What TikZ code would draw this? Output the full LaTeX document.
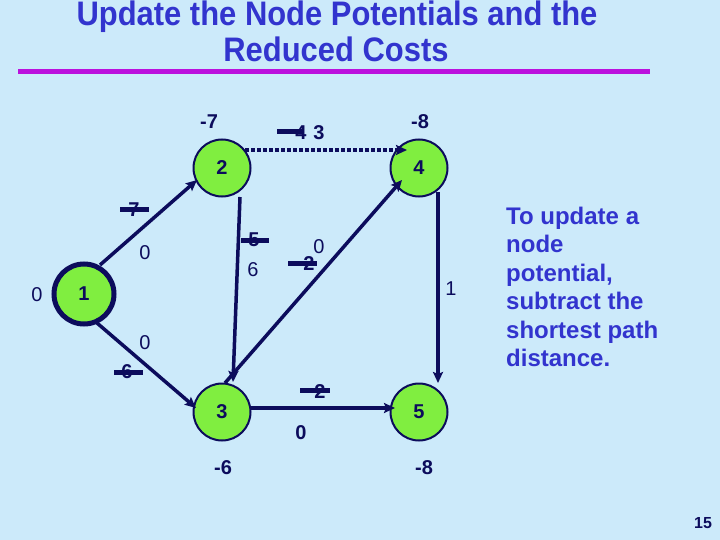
\documentclass[tikz,border=0pt]{standalone}
\usepackage{fontspec}
\setmainfont{Liberation Sans}
\usetikzlibrary{arrows.meta}
\definecolor{navy}{RGB}{12,12,92}
\definecolor{nodegreen}{RGB}{128,238,64}
\definecolor{bgblue}{RGB}{204,234,250}
\definecolor{titleblue}{RGB}{50,52,206}
\definecolor{rulemag}{RGB}{187,17,221}
\tikzset{
  vtx/.style={circle, draw=navy, fill=nodegreen, line width=2pt, minimum size=57pt, inner sep=0pt,
    font=\fontsize{20}{24}\selectfont\bfseries, text=navy},
  srcvtx/.style={vtx, line width=5pt, minimum size=60pt},
  edge/.style={draw=navy, line width=3.5pt, -{Stealth[length=11pt,width=10pt,inset=2pt]}},
  dotedge/.style={edge, line width=4pt, dash pattern=on 4pt off 2pt},
  lbl/.style={inner sep=0pt, text=navy, font=\fontsize{20}{24}\selectfont},
  blbl/.style={lbl, font=\fontsize{20}{24}\selectfont\bfseries},
  strike/.style={draw=navy, line width=5pt},
  titletext/.style={inner sep=0pt, anchor=base, text=titleblue, font=\fontsize{34}{40}\selectfont\bfseries},
}
\begin{document}
\begin{tikzpicture}[x=1pt,y=1pt]
\fill[bgblue] (0,0) rectangle (720,-540);
\useasboundingbox (0,0) rectangle (720,-540);
% title
\node[titletext] (t1) at (337,-25.5) {\scalebox{0.91}[1]{Update the Node Potentials and the}};
\node[titletext] (t2) at (336,-62) {\scalebox{0.91}[1]{Reduced Costs}};
\draw[rulemag, line width=5pt] (18,-72) -- (650,-72);
% nodes
\node[srcvtx] (n1) at (84,-294) {1};
\node[vtx] (n2) at (222,-168) {2};
\node[vtx] (n3) at (222,-412) {3};
\node[vtx] (n4) at (419,-168) {4};
\node[vtx] (n5) at (419,-412) {5};
% edges
\draw[edge] ([shift={(16,29)}]n1.center) -- ([shift={(-25,-12)}]n2.center);
\draw[edge] ([shift={(13,-29)}]n1.center) -- ([shift={(-26,4)}]n3.center);
\draw[edge] ([shift={(18,-29)}]n2.center) -- ([shift={(11,30)}]n3.center);
\draw[edge] ([shift={(3,29)}]n3.center) -- ([shift={(-17,-12)}]n4.center);
\draw[dotedge] ([shift={(23,18)}]n2.center) -- ([shift={(-12,18)}]n4.center);
\draw[edge] ([shift={(19,-24)}]n4.center) -- ([shift={(19,29)}]n5.center);
\draw[edge] ([shift={(29,4)}]n3.center) -- ([shift={(-24,4)}]n5.center);
% potentials
\node[blbl] (p2) at (209,-122) {-7};
\node[blbl] (p4) at (420,-122) {-8};
\node[lbl] (p1) at (37,-295) {0};
\node[blbl] (p3) at (223,-468) {-6};
\node[blbl] (p5) at (424,-468) {-8};
% edge costs
\node[blbl] (c24old) at (301,-133) {4};
\draw[strike] ([xshift=-24pt,yshift=1pt]c24old.center) -- ([xshift=3pt,yshift=1pt]c24old.center);
\node[blbl] (c24) at (319,-133) {3};
\node[blbl] (c12old) at (134,-210) {7};
\draw[strike] ([xshift=-14pt]c12old.center) -- ([xshift=15pt]c12old.center);
\node[lbl] (c12) at (145,-253) {0};
\node[blbl] (c23old) at (254,-240) {5};
\draw[strike] ([xshift=-13pt]c23old.center) -- ([xshift=15pt]c23old.center);
\node[lbl] (c23) at (253,-270) {6};
\node[blbl] (c34old) at (309,-264) {2};
\draw[strike] ([xshift=-21pt,yshift=1pt]c34old.center) -- ([xshift=8pt,yshift=1pt]c34old.center);
\node[lbl] (c34) at (319,-247) {0};
\node[lbl] (c45) at (451,-289) {1};
\node[lbl] (c13) at (145,-343) {0};
\node[blbl] (c13old) at (127,-372) {6};
\draw[strike] ([xshift=-13pt]c13old.center) -- ([xshift=16pt]c13old.center);
\node[blbl] (c35old) at (320,-392) {2};
\draw[strike] ([xshift=-20pt,yshift=2pt]c35old.center) -- ([xshift=10pt,yshift=2pt]c35old.center);
\node[blbl] (c35) at (301,-433) {0};
% side text
\node[inner sep=0pt, anchor=north west, align=left, text=titleblue,
  font=\fontsize{24}{28.5}\selectfont\bfseries] (note) at (506,-206.5)
  {To update a\\node\\potential,\\subtract the\\shortest path\\distance.};
\node[inner sep=0pt, text=navy, font=\fontsize{16}{19}\selectfont\bfseries] (pg) at (703,-523) {15};
\end{tikzpicture}
\end{document}
